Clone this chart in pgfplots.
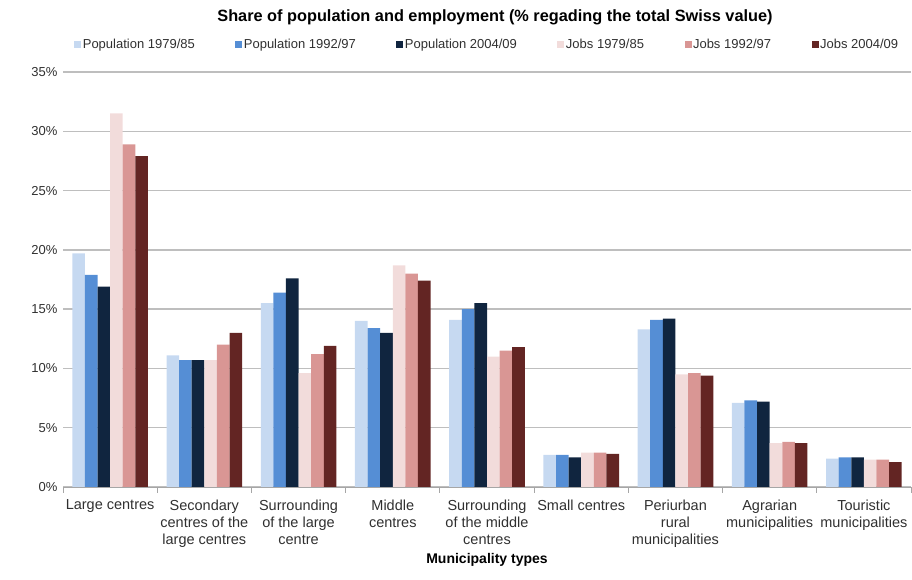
\documentclass[border=0pt]{standalone}
\usepackage{fontspec}
\setmainfont{Liberation Sans}
\usepackage{pgfplots}
\pgfplotsset{compat=1.18}
\definecolor{p1}{HTML}{C6D9F1}
\definecolor{p2}{HTML}{558ED5}
\definecolor{p3}{HTML}{10253F}
\definecolor{j1}{HTML}{F2DCDB}
\definecolor{j2}{HTML}{D99694}
\definecolor{j3}{HTML}{632523}
\definecolor{gridc}{HTML}{BEBEBE}
\definecolor{txt}{HTML}{303030}
\begin{document}
\begin{tikzpicture}[x=1pt,y=1pt]
\path[use as bounding box] (0,0) rectangle (912,580);
\begin{axis}[
  at={(63pt,93pt)}, anchor=south west,
  scale only axis, width=848pt, height=415pt,
  xmin=-0.5, xmax=8.5, ymin=0, ymax=35,
  ybar=0pt, bar width=12.6pt,
  ytick={0,5,...,35},
  yticklabel={\pgfmathprintnumber{\tick}\%},
  /pgf/number format/assume math mode=true,
  ymajorgrids, grid style={gridc, line width=1.4pt},
  axis x line*=bottom, axis y line*=left,
  y axis line style={draw=none}, ytick style={draw=none},
  x axis line style={draw=gray!70, line width=0.9pt},
  xtick={0,...,8}, xtick style={draw=none},
  xticklabels={Large centres,
    {Secondary\\centres of the\\large centres},
    {Surrounding\\of the large\\centre},
    {Middle\\centres},
    {Surrounding\\of the middle\\centres},
    Small centres,
    {Periurban\\rural\\municipalities},
    {Agrarian\\municipalities},
    {Touristic\\municipalities}},
  xticklabel style={align=center, font=\fontsize{14.5}{17}\selectfont, text=txt, anchor=north, yshift=-5pt},
  yticklabel style={font=\fontsize{13}{15}\selectfont, text=txt, xshift=-2pt},
  extra x ticks={-0.5,0.5,...,8.5}, extra x tick labels={},
  extra x tick style={grid=none, xtick style={draw=gray!70, line width=0.9pt}, major tick length=6pt, tick align=outside},
  title={Share of population and employment (\% regading the total Swiss value)},
  title style={at={(0.5,1)}, anchor=center, yshift=49pt, xshift=8pt, font=\bfseries\fontsize{16.3}{19}\selectfont},
  xlabel={Municipality types},
  xlabel style={at={(0.5,0)}, anchor=center, yshift=-73pt, font=\bfseries\fontsize{14}{16}\selectfont},
  legend columns=6,
  legend style={at={(0.5,1)}, anchor=center, yshift=27pt, draw=none, fill=none,
    font=\fontsize{13}{15}\selectfont, text=txt,
    /tikz/every even column/.append style={column sep=39pt},
    nodes={inner sep=1.5pt}},
  legsq/.style={legend image code/.code={\fill[##1,draw=none] (0pt,-3.5pt) rectangle (7pt,3.5pt);}},
]
\addplot[fill=p1, draw=none, legsq] coordinates {(0,19.7) (1,11.1) (2,15.5) (3,14.0) (4,14.1) (5,2.7) (6,13.3) (7,7.1) (8,2.4)};
\addplot[fill=p2, draw=none, legsq] coordinates {(0,17.9) (1,10.7) (2,16.4) (3,13.4) (4,15.0) (5,2.7) (6,14.1) (7,7.3) (8,2.5)};
\addplot[fill=p3, draw=none, legsq] coordinates {(0,16.9) (1,10.7) (2,17.6) (3,13.0) (4,15.5) (5,2.5) (6,14.2) (7,7.2) (8,2.5)};
\addplot[fill=j1, draw=none, legsq] coordinates {(0,31.5) (1,10.7) (2,9.6) (3,18.7) (4,11.0) (5,2.9) (6,9.5) (7,3.7) (8,2.3)};
\addplot[fill=j2, draw=none, legsq] coordinates {(0,28.9) (1,12.0) (2,11.2) (3,18.0) (4,11.5) (5,2.9) (6,9.6) (7,3.8) (8,2.3)};
\addplot[fill=j3, draw=none, legsq] coordinates {(0,27.9) (1,13.0) (2,11.9) (3,17.4) (4,11.8) (5,2.8) (6,9.4) (7,3.7) (8,2.1)};
\legend{Population 1979/85, Population 1992/97, Population 2004/09, Jobs 1979/85, Jobs 1992/97, Jobs 2004/09}
\end{axis}
\end{tikzpicture}
\end{document}
